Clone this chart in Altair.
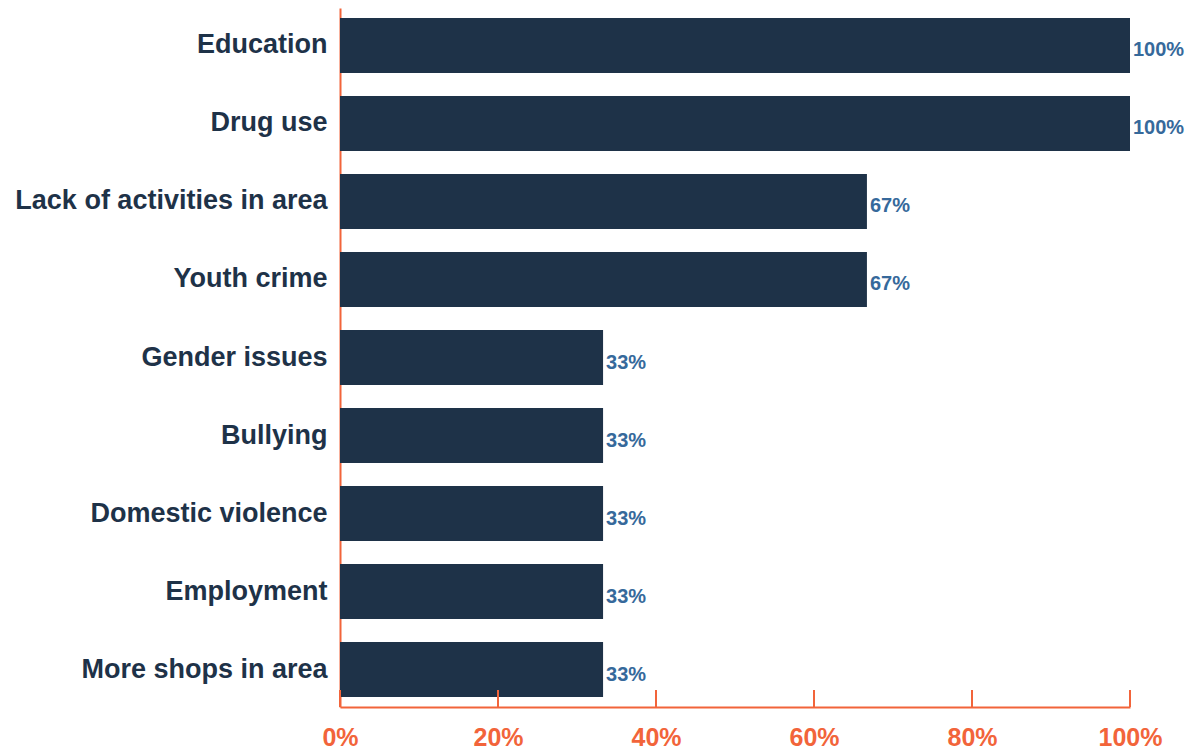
import altair as alt
import pandas as pd

categories = ["Education", "Drug use", "Lack of activities in area", "Youth crime",
              "Gender issues", "Bullying", "Domestic violence", "Employment",
              "More shops in area"]
values = [100, 100, 66.7, 66.7, 33.3, 33.3, 33.3, 33.3, 33.3]
labels = ["100%", "100%", "67%", "67%", "33%", "33%", "33%", "33%", "33%"]
tick_values = [0, 20, 40, 60, 80, 100]

NAVY = "#1e3248"
ORANGE = "#f2643a"
BLUE = "#36699b"
FONT = "Liberation Sans"
H = 699
W = 790

df = pd.DataFrame({"cat": categories, "val": values, "lab": labels})
ticks_df = pd.DataFrame({"t": tick_values})

xscale = alt.Scale(domain=[0, 100], nice=False)
yscale = alt.Scale(paddingInner=0.295, paddingOuter=0.128)

bars = alt.Chart(df).mark_bar(color=NAVY).encode(
    y=alt.Y("cat:N", sort=categories, scale=yscale, title=None,
            axis=alt.Axis(labelFont=FONT, labelFontSize=27, labelFontWeight="bold",
                          labelColor=NAVY, ticks=False, domainColor=ORANGE,
                          domainWidth=2, labelPadding=13, labelLimit=400)),
    x=alt.X("val:Q", scale=xscale, title=None,
            axis=alt.Axis(values=tick_values, format="d", labelExpr="datum.value + '%'",
                          labelFont=FONT, labelFontSize=25, labelFontWeight="bold",
                          labelColor=ORANGE, ticks=False, domainColor=ORANGE,
                          domainWidth=2, labelPadding=18, grid=False,
                          labelFlush=False)),
)

text = alt.Chart(df).mark_text(align="left", baseline="middle", dx=3, dy=5,
                               font=FONT, fontSize=20, fontWeight="bold",
                               color=BLUE).encode(
    y=alt.Y("cat:N", sort=categories, scale=yscale),
    x=alt.X("val:Q", scale=xscale),
    text="lab:N",
)

tick_rules = alt.Chart(ticks_df).mark_rule(color=ORANGE, strokeWidth=2).encode(
    x=alt.X("t:Q", scale=xscale),
    y=alt.value(H - 17),
    y2=alt.value(H),
)

chart = alt.layer(bars, text, tick_rules).properties(
    width=W, height=H, background="white",
    padding={"left": 6, "top": 0, "right": 0, "bottom": 0},
).configure_view(strokeWidth=0, stroke=None)

chart.save("out.html", embed_options={"renderer": "svg", "actions": False})
